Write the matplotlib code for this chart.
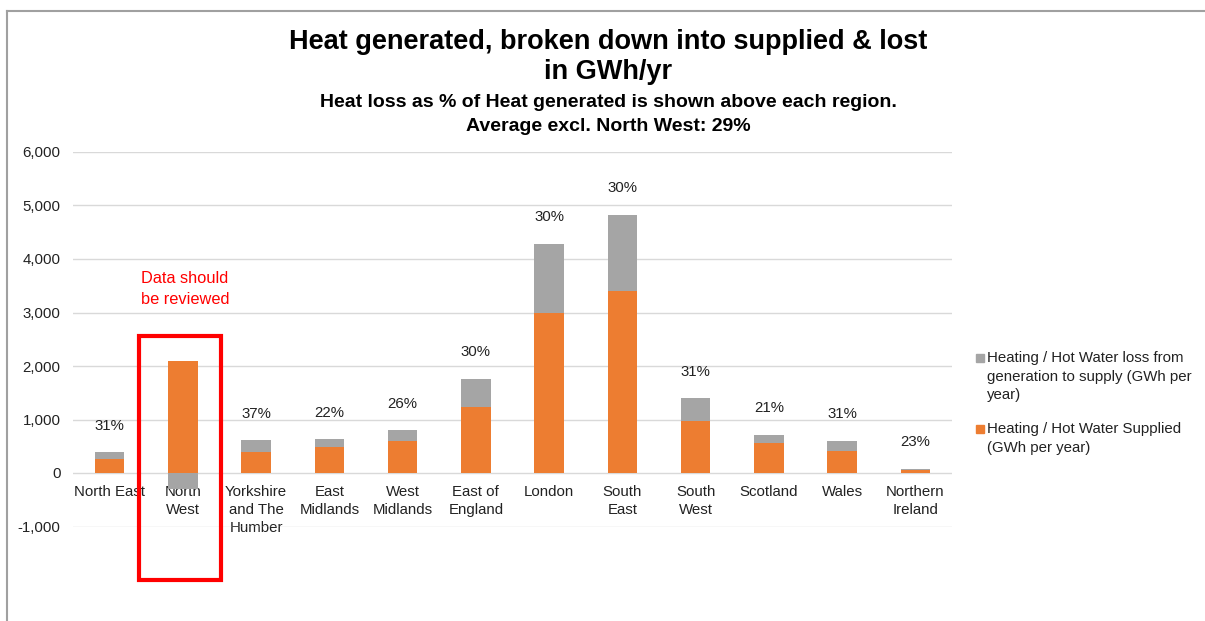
import matplotlib
matplotlib.use("Agg")
import matplotlib.pyplot as plt
from matplotlib.patches import Rectangle
from matplotlib.lines import Line2D
import numpy as np

plt.rcParams['font.family'] = ['Liberation Sans', 'DejaVu Sans']

regions = ["North East", "North\nWest", "Yorkshire\nand The\nHumber", "East\nMidlands",
           "West\nMidlands", "East of\nEngland", "London", "South\nEast", "South\nWest",
           "Scotland", "Wales", "Northern\nIreland"]
supplied = [267, 2086, 392, 492, 591, 1227, 2996, 3408, 972, 561, 417, 62]
loss = [118, -300, 225, 136, 213, 536, 1290, 1420, 423, 155, 187, 18]
loss_pct = ["31%", None, "37%", "22%", "26%", "30%", "30%", "30%", "31%", "21%", "31%", "23%"]
yticks = [-1000, 0, 1000, 2000, 3000, 4000, 5000, 6000]

loss_label = "Heating / Hot Water loss from\ngeneration to supply (GWh per\nyear)"
supplied_label = "Heating / Hot Water Supplied\n(GWh per year)"

ORANGE = "#ED7D31"
GREY = "#A5A5A5"

W, H = 1205, 621
fig = plt.figure(figsize=(W / 100, H / 100), dpi=100)
ax = fig.add_axes([73 / W, 1 - 526.5 / H, (952 - 73) / W, (526.5 - 152) / H])

x = np.arange(len(regions))
sup = np.array(supplied, dtype=float)
los = np.array(loss, dtype=float)
ax.bar(x, sup, width=0.4, color=ORANGE, zorder=3)
bottoms = np.where(los >= 0, sup, 0)
ax.bar(x, los, width=0.4, bottom=bottoms, color=GREY, zorder=3)

for i, p in enumerate(loss_pct):
    if p is None:
        continue
    top = sup[i] + max(los[i], 0)
    ax.annotate(p, (x[i], top), xytext=(0, 19), textcoords="offset points",
                ha="center", va="center", fontsize=10.8, color="#222222")

ax.set_xlim(-0.5, len(regions) - 0.5)
ax.set_ylim(-1000, 6000)
ax.set_yticks(yticks)
ax.set_yticklabels([f"{v:,}" for v in yticks])
ax.yaxis.grid(True, color="#d9d9d9", lw=1, zorder=0)
ax.set_axisbelow(True)
for s in ax.spines.values():
    s.set_visible(False)
ax.spines['bottom'].set_position(('data', 0))
ax.set_xticks(x)
ax.set_xticklabels(regions, fontsize=10.8, color="#222222", linespacing=1.35)
ax.tick_params(axis='x', length=0, pad=8.5)
ax.tick_params(axis='y', length=0, pad=9, labelsize=10.8, labelcolor="#222222")

# Titles
fig.text(608 / W, 1 - 57 / H, "Heat generated, broken down into supplied & lost\nin GWh/yr",
         ha="center", va="center", fontsize=19.5, fontweight="bold", linespacing=1.22)
fig.text(608 / W, 1 - 114.5 / H,
         "Heat loss as % of Heat generated is shown above each region.\nAverage excl. North West: 29%",
         ha="center", va="center", fontsize=14, fontweight="bold", linespacing=1.5)

# Legend (manual)
fig.add_artist(Rectangle((976 / W, 1 - 362 / H), 8 / W, 8 / H, transform=fig.transFigure,
                         color=GREY))
fig.text(987 / W, 1 - 351 / H, loss_label, ha="left", va="top", fontsize=10.8,
         linespacing=1.42, color="#222222")
fig.add_artist(Rectangle((976 / W, 1 - 433 / H), 8 / W, 8 / H, transform=fig.transFigure,
                         color=ORANGE))
fig.text(987 / W, 1 - 422 / H, supplied_label, ha="left", va="top", fontsize=10.8,
         linespacing=1.42, color="#222222")

# Red highlight box & note
fig.add_artist(Rectangle((139 / W, 1 - 580 / H), 82 / W, 244 / H, transform=fig.transFigure,
                         fill=False, ec="#FF0000", lw=3))
fig.text(185 / W, 1 - 289 / H, "Data should\nbe reviewed", ha="center", va="center",
         fontsize=11.8, color="#FF0000", linespacing=1.45)

# Frame lines
fig.add_artist(Line2D([7 / W, 7 / W], [0, 1 - 11 / H], transform=fig.transFigure,
                      color="#a0a0a0", lw=1.5))
fig.add_artist(Line2D([7 / W, 1], [1 - 11 / H, 1 - 11 / H], transform=fig.transFigure,
                      color="#a0a0a0", lw=1.5))

fig.savefig("out.png", dpi=100)
